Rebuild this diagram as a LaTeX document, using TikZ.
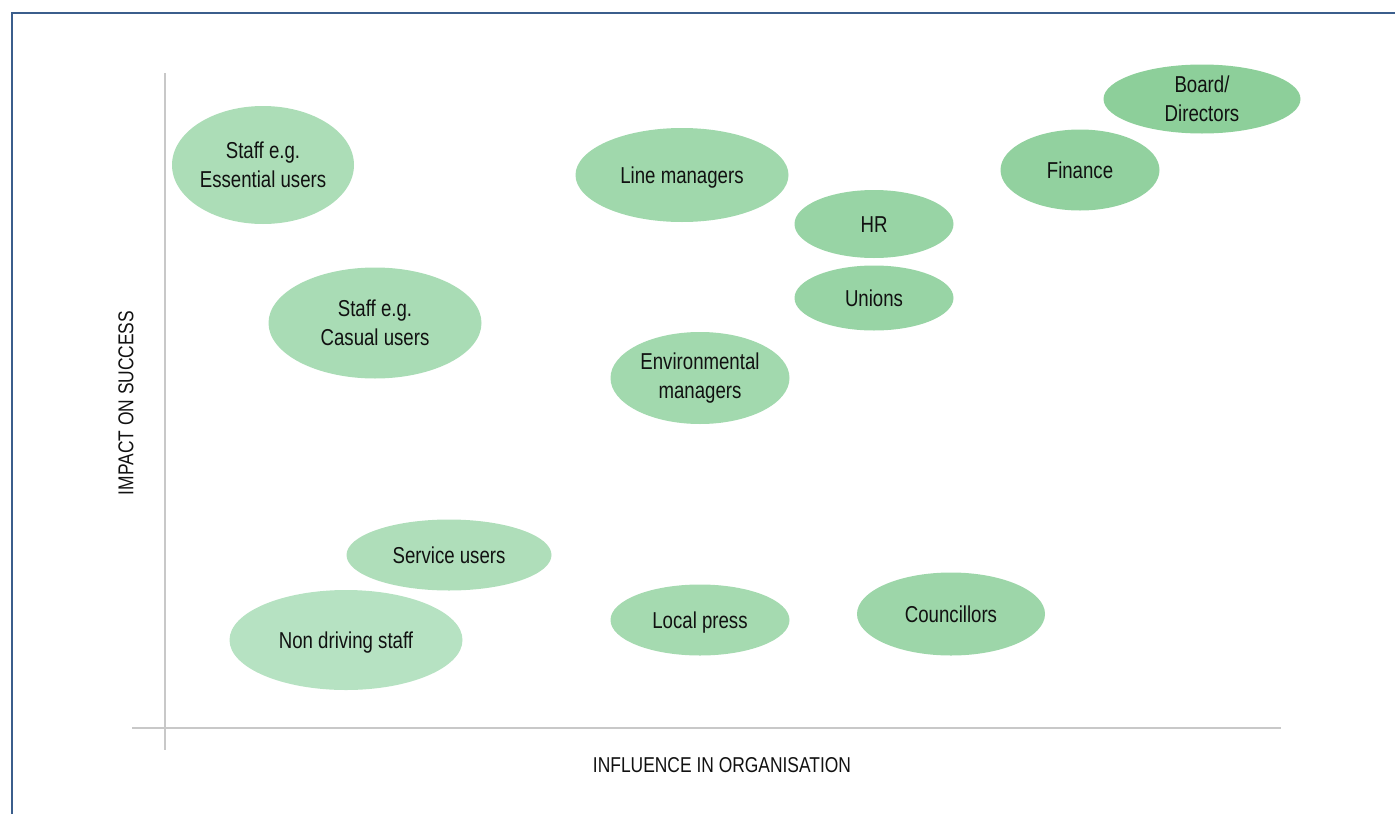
\documentclass[tikz,border=0pt]{standalone}
\usepackage{fontspec}
\setmainfont{Liberation Sans}[FakeStretch=0.81]
\usetikzlibrary{shapes.geometric}
\definecolor{frameblue}{HTML}{3B5E8C}
\definecolor{axisgray}{HTML}{C8C8C8}
\definecolor{txt}{HTML}{111111}
\definecolor{gA}{HTML}{ACDDB7}
\definecolor{gB}{HTML}{A9DCB5}
\definecolor{gC}{HTML}{AFDEBA}
\definecolor{gD}{HTML}{B6E2C2}
\definecolor{gE}{HTML}{A0D8AC}
\definecolor{gF}{HTML}{A2D9AE}
\definecolor{gG}{HTML}{A5DAB0}
\definecolor{gH}{HTML}{9DD6A9}
\definecolor{gI}{HTML}{98D4A5}
\definecolor{gJ}{HTML}{92D19F}
\definecolor{gK}{HTML}{8DCF9A}
\tikzset{
  bubble/.style={ellipse, draw=none, inner sep=0pt, align=center, text=txt,
    font=\fontsize{23}{29}\selectfont},
  oneline/.style={bubble, text height=16.6pt, text depth=0pt},
  axislabel/.style={text=txt, font=\fontsize{21.5}{26}\selectfont, inner sep=0pt},
  axisline/.style={draw=axisgray, line width=1.2pt}
}
\begin{document}
\begin{tikzpicture}[x=1pt,y=-1pt]
\useasboundingbox (0,0) rectangle (1395,814);
% frame
\draw[frameblue, line width=1.5pt] (12,814) -- (12,13) -- (1395,13);
% axes
\coordinate (vt) at (165,73);
\coordinate (vb) at (165,750);
\coordinate (hl) at (132,728);
\coordinate (hr) at (1281,728);
\draw[axisline] (vt) -- (vb);
\draw[axisline] (hl) -- (hr);
% bubbles
\node[bubble, fill=gA, minimum width=182pt, minimum height=118pt] (ess) at (263,165) {Staff e.g.\\Essential users};
\node[oneline, fill=gE, minimum width=213pt, minimum height=94pt] (line) at (682,175) {Line managers};
\node[oneline, fill=gI, minimum width=159pt, minimum height=68pt] (hrb) at (874,224) {HR};
\node[oneline, fill=gI, minimum width=159pt, minimum height=65pt] (uni) at (874,298) {Unions};
\node[oneline, fill=gJ, minimum width=159pt, minimum height=81pt] (fin) at (1080,170) {Finance};
\node[bubble, fill=gK, minimum width=197pt, minimum height=69pt] (board) at (1202,99) {Board/\\Directors};
\node[bubble, fill=gB, minimum width=213pt, minimum height=111pt] (cas) at (375,323) {Staff e.g.\\Casual users};
\node[bubble, fill=gF, minimum width=179pt, minimum height=92pt] (env) at (700,378) {Environmental\\managers};
\node[oneline, fill=gC, minimum width=205pt, minimum height=71pt] (serv) at (449,555) {Service users};
\node[oneline, fill=gD, minimum width=233pt, minimum height=100pt] (nond) at (346,640) {Non driving staff};
\node[oneline, fill=gG, minimum width=179pt, minimum height=71pt] (press) at (700,620) {Local press};
\node[oneline, fill=gH, minimum width=188pt, minimum height=83pt] (coun) at (951,614) {Councillors};
% axis labels
\node[axislabel, rotate=90] (ylab) at (126,403) {IMPACT ON SUCCESS};
\node[axislabel] (xlab) at (722,765) {INFLUENCE IN ORGANISATION};
\end{tikzpicture}
\end{document}
